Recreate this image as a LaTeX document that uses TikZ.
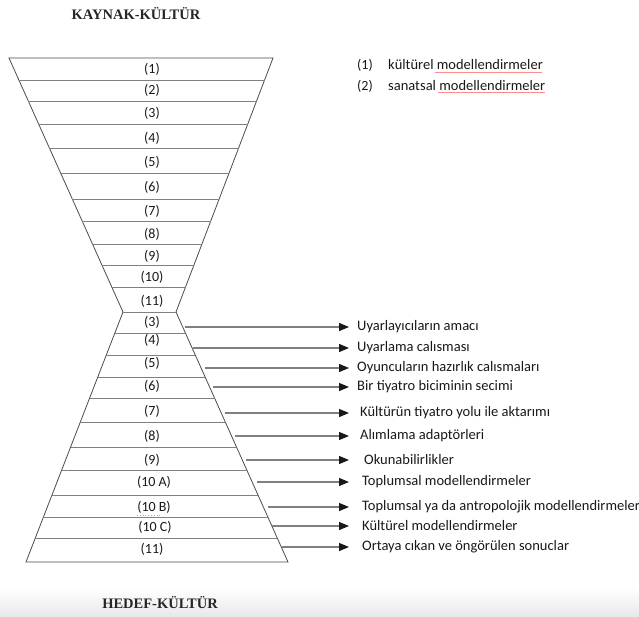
\documentclass[tikz,border=0pt]{standalone}
\usepackage{fontspec}
\setmainfont{Liberation Serif}
\newfontfamily\carl{Carlito}
\usetikzlibrary{arrows.meta}
\begin{document}
\begin{tikzpicture}[x=1pt,y=-1pt,
  edgeline/.style={draw=black!70,line width=0.8pt},
  sepline/.style={draw=black!50,line width=0.9pt},
  num/.style={font=\carl\fontsize{14}{16}\selectfont,inner sep=0pt,text=black!90},
  lab/.style={font=\carl\fontsize{14.5}{16}\selectfont,inner sep=0pt,anchor=west,text=black!90},
  ttl/.style={font=\bfseries\fontsize{14.5}{17}\selectfont,inner sep=0pt,text=black!85},
  arr/.style={draw=black!50,line width=1.2pt,-{Triangle[length=10pt,width=8pt,color=black!90]}},
  squig/.style={draw=red!45,line width=0.6pt},
]
\useasboundingbox (0,0) rectangle (639,617);
\fill[white] (0,0) rectangle (639,617);
\shade[top color=white,bottom color=black!9] (0,588) rectangle (639,617);

% titles
\node[ttl] (src) at (136,14) {KAYNAK-KÜLTÜR};
\node[ttl] (tgt) at (160,603) {HEDEF-KÜLTÜR};

% hourglass outline
\draw[edgeline] (9,58) -- (273,58) -- (176,312) -- (288,562) -- (26,562) -- (123,312) -- cycle;
\draw[sepline] (123,312) -- (176,312);
% upper separators
\foreach \y in {80,101,124,148,173,199,221,244,265,287}
  \draw[sepline] ({9+(\y-58)/254*114},\y) -- ({273-(\y-58)/254*97},\y);
% lower separators
\foreach \y in {333,355,377,398,422,447,470,495,517,538}
  \draw[sepline] ({123-(\y-312)/250*97},\y) -- ({176+(\y-312)/250*112},\y);

% upper labels
\node[num] (u1) at (152,69) {(1)};
\node[num] (u2) at (152,90) {(2)};
\node[num] (u3) at (152,113) {(3)};
\node[num] (u4) at (152,138) {(4)};
\node[num] (u5) at (152,162) {(5)};
\node[num] (u6) at (152,187) {(6)};
\node[num] (u7) at (152,211) {(7)};
\node[num] (u8) at (152,234) {(8)};
\node[num] (u9) at (152,256) {(9)};
\node[num] (u10) at (152,277) {(10)};
\node[num] (u11) at (152,301) {(11)};

% lower labels
\node[num] (l3) at (152,322) {(3)};
\node[num] (l4) at (152,340) {(4)};
\node[num] (l5) at (152,363) {(5)};
\node[num] (l6) at (152,386) {(6)};
\node[num] (l7) at (152,411) {(7)};
\node[num] (l8) at (152,436) {(8)};
\node[num] (l9) at (152,460) {(9)};
\node[num] (l10a) at (154,482) {(10 A)};
\node[num] (l10b) at (154,507) {(10 B)};
\node[num] (l10c) at (155,527) {(10 C)};
\node[num] (l11) at (152,549) {(11)};
\draw[black!35,line width=0.8pt,dotted] (137,515) -- (160,515);

% legend
\node[num,anchor=west] (k1) at (357,65) {(1)};
\node[lab] (d1) at (388,65) {kültürel modellendirmeler};
\node[num,anchor=west] (k2) at (357,86) {(2)};
\node[lab] (d2) at (388,86) {sanatsal modellendirmeler};
\draw[squig] (435,72) -- (542,72);
\draw[squig] (438,92) -- (545,92);

% right-hand texts
\node[lab] (t1) at (357,327) {Uyarlayıcıların amacı};
\node[lab] (t2) at (357,348) {Uyarlama calısması};
\node[lab] (t3) at (357,368) {Oyuncuların hazırlık calısmaları};
\node[lab] (t4) at (357,387) {Bir tiyatro biciminin secimi};
\node[lab] (t5) at (360,413) {Kültürün tiyatro yolu ile aktarımı};
\node[lab] (t6) at (360,436) {Alımlama adaptörleri};
\node[lab] (t7) at (364,460) {Okunabilirlikler};
\node[lab] (t8) at (362,482) {Toplumsal modellendirmeler};
\node[lab] (t9) at (362,507) {Toplumsal ya da antropolojik modellendirmeler};
\node[lab] (t10) at (362,526) {Kültürel modellendirmeler};
\node[lab] (t11) at (362,547) {Ortaya cıkan ve öngörülen sonuclar};

% arrow start and end points
\foreach \i/\sx/\y in {1/185/327,2/193/348,3/205/368,4/213/387,5/225/413,6/235/436,7/246/460,8/257/482,9/268/507,10/272/526,11/282/547}{
  \coordinate (s\i) at (\sx,\y);
  \coordinate (e\i) at (349,\y);
}
\foreach \i in {1,...,11}
  \draw[arr] (s\i) -- (e\i);
\end{tikzpicture}
\end{document}
